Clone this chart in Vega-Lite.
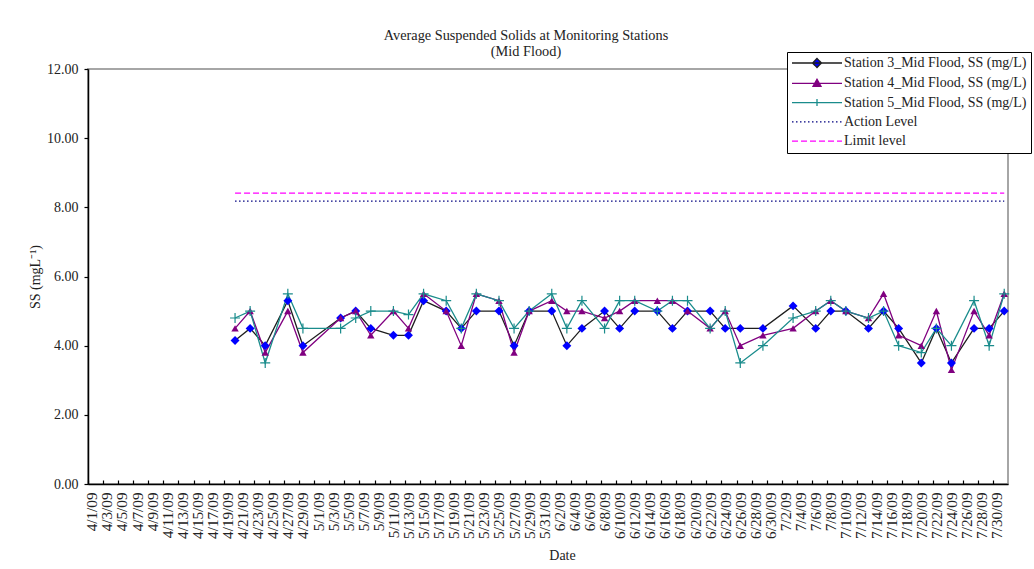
{
  "$schema": "https://vega.github.io/schema/vega-lite/v6.json",
  "width": 920,
  "height": 415,
  "autosize": "none",
  "padding": {"left": 88, "top": 69, "right": 26, "bottom": 85},
  "background": "white",
  "config": {
    "font": "Liberation Serif",
    "view": {"stroke": "#a6a6a6", "strokeWidth": 2},
    "axis": {"labelFont": "Liberation Serif", "titleFont": "Liberation Serif", "labelColor": "#222", "titleColor": "#222", "domainColor": "#000", "tickColor": "#000", "domainWidth": 1.5, "tickWidth": 1.2, "grid": false, "titleFontWeight": "normal"}
  },
  "title": {
    "text": ["Average Suspended Solids at Monitoring Stations", "(Mid Flood)"],
    "font": "Liberation Serif",
    "fontSize": 14.3,
    "fontWeight": "normal",
    "color": "#222",
    "anchor": "middle",
    "dx": -22,
    "offset": -8,
    "lineHeight": 16
  },
  "datasets": {
    "stations": [
      {"date": "2009-04-20", "series": "Station 3_Mid Flood, SS (mg/L)", "ss": 4.15},
      {"date": "2009-04-22", "series": "Station 3_Mid Flood, SS (mg/L)", "ss": 4.5},
      {"date": "2009-04-24", "series": "Station 3_Mid Flood, SS (mg/L)", "ss": 4.0},
      {"date": "2009-04-27", "series": "Station 3_Mid Flood, SS (mg/L)", "ss": 5.3},
      {"date": "2009-04-29", "series": "Station 3_Mid Flood, SS (mg/L)", "ss": 4.0},
      {"date": "2009-05-04", "series": "Station 3_Mid Flood, SS (mg/L)", "ss": 4.8},
      {"date": "2009-05-06", "series": "Station 3_Mid Flood, SS (mg/L)", "ss": 5.0},
      {"date": "2009-05-08", "series": "Station 3_Mid Flood, SS (mg/L)", "ss": 4.5},
      {"date": "2009-05-11", "series": "Station 3_Mid Flood, SS (mg/L)", "ss": 4.3},
      {"date": "2009-05-13", "series": "Station 3_Mid Flood, SS (mg/L)", "ss": 4.3},
      {"date": "2009-05-15", "series": "Station 3_Mid Flood, SS (mg/L)", "ss": 5.3},
      {"date": "2009-05-18", "series": "Station 3_Mid Flood, SS (mg/L)", "ss": 5.0},
      {"date": "2009-05-20", "series": "Station 3_Mid Flood, SS (mg/L)", "ss": 4.5},
      {"date": "2009-05-22", "series": "Station 3_Mid Flood, SS (mg/L)", "ss": 5.0},
      {"date": "2009-05-25", "series": "Station 3_Mid Flood, SS (mg/L)", "ss": 5.0},
      {"date": "2009-05-27", "series": "Station 3_Mid Flood, SS (mg/L)", "ss": 4.0},
      {"date": "2009-05-29", "series": "Station 3_Mid Flood, SS (mg/L)", "ss": 5.0},
      {"date": "2009-06-01", "series": "Station 3_Mid Flood, SS (mg/L)", "ss": 5.0},
      {"date": "2009-06-03", "series": "Station 3_Mid Flood, SS (mg/L)", "ss": 4.0},
      {"date": "2009-06-05", "series": "Station 3_Mid Flood, SS (mg/L)", "ss": 4.5},
      {"date": "2009-06-08", "series": "Station 3_Mid Flood, SS (mg/L)", "ss": 5.0},
      {"date": "2009-06-10", "series": "Station 3_Mid Flood, SS (mg/L)", "ss": 4.5},
      {"date": "2009-06-12", "series": "Station 3_Mid Flood, SS (mg/L)", "ss": 5.0},
      {"date": "2009-06-15", "series": "Station 3_Mid Flood, SS (mg/L)", "ss": 5.0},
      {"date": "2009-06-17", "series": "Station 3_Mid Flood, SS (mg/L)", "ss": 4.5},
      {"date": "2009-06-19", "series": "Station 3_Mid Flood, SS (mg/L)", "ss": 5.0},
      {"date": "2009-06-22", "series": "Station 3_Mid Flood, SS (mg/L)", "ss": 5.0},
      {"date": "2009-06-24", "series": "Station 3_Mid Flood, SS (mg/L)", "ss": 4.5},
      {"date": "2009-06-26", "series": "Station 3_Mid Flood, SS (mg/L)", "ss": 4.5},
      {"date": "2009-06-29", "series": "Station 3_Mid Flood, SS (mg/L)", "ss": 4.5},
      {"date": "2009-07-03", "series": "Station 3_Mid Flood, SS (mg/L)", "ss": 5.15},
      {"date": "2009-07-06", "series": "Station 3_Mid Flood, SS (mg/L)", "ss": 4.5},
      {"date": "2009-07-08", "series": "Station 3_Mid Flood, SS (mg/L)", "ss": 5.0},
      {"date": "2009-07-10", "series": "Station 3_Mid Flood, SS (mg/L)", "ss": 5.0},
      {"date": "2009-07-13", "series": "Station 3_Mid Flood, SS (mg/L)", "ss": 4.5},
      {"date": "2009-07-15", "series": "Station 3_Mid Flood, SS (mg/L)", "ss": 5.0},
      {"date": "2009-07-17", "series": "Station 3_Mid Flood, SS (mg/L)", "ss": 4.5},
      {"date": "2009-07-20", "series": "Station 3_Mid Flood, SS (mg/L)", "ss": 3.5},
      {"date": "2009-07-22", "series": "Station 3_Mid Flood, SS (mg/L)", "ss": 4.5},
      {"date": "2009-07-24", "series": "Station 3_Mid Flood, SS (mg/L)", "ss": 3.5},
      {"date": "2009-07-27", "series": "Station 3_Mid Flood, SS (mg/L)", "ss": 4.5},
      {"date": "2009-07-29", "series": "Station 3_Mid Flood, SS (mg/L)", "ss": 4.5},
      {"date": "2009-07-31", "series": "Station 3_Mid Flood, SS (mg/L)", "ss": 5.0},

      {"date": "2009-04-20", "series": "Station 4_Mid Flood, SS (mg/L)", "ss": 4.5},
      {"date": "2009-04-22", "series": "Station 4_Mid Flood, SS (mg/L)", "ss": 5.0},
      {"date": "2009-04-24", "series": "Station 4_Mid Flood, SS (mg/L)", "ss": 3.8},
      {"date": "2009-04-27", "series": "Station 4_Mid Flood, SS (mg/L)", "ss": 5.0},
      {"date": "2009-04-29", "series": "Station 4_Mid Flood, SS (mg/L)", "ss": 3.8},
      {"date": "2009-05-04", "series": "Station 4_Mid Flood, SS (mg/L)", "ss": 4.8},
      {"date": "2009-05-06", "series": "Station 4_Mid Flood, SS (mg/L)", "ss": 5.0},
      {"date": "2009-05-08", "series": "Station 4_Mid Flood, SS (mg/L)", "ss": 4.3},
      {"date": "2009-05-11", "series": "Station 4_Mid Flood, SS (mg/L)", "ss": 5.0},
      {"date": "2009-05-13", "series": "Station 4_Mid Flood, SS (mg/L)", "ss": 4.5},
      {"date": "2009-05-15", "series": "Station 4_Mid Flood, SS (mg/L)", "ss": 5.5},
      {"date": "2009-05-18", "series": "Station 4_Mid Flood, SS (mg/L)", "ss": 5.0},
      {"date": "2009-05-20", "series": "Station 4_Mid Flood, SS (mg/L)", "ss": 4.0},
      {"date": "2009-05-22", "series": "Station 4_Mid Flood, SS (mg/L)", "ss": 5.5},
      {"date": "2009-05-25", "series": "Station 4_Mid Flood, SS (mg/L)", "ss": 5.3},
      {"date": "2009-05-27", "series": "Station 4_Mid Flood, SS (mg/L)", "ss": 3.8},
      {"date": "2009-05-29", "series": "Station 4_Mid Flood, SS (mg/L)", "ss": 5.0},
      {"date": "2009-06-01", "series": "Station 4_Mid Flood, SS (mg/L)", "ss": 5.3},
      {"date": "2009-06-03", "series": "Station 4_Mid Flood, SS (mg/L)", "ss": 5.0},
      {"date": "2009-06-05", "series": "Station 4_Mid Flood, SS (mg/L)", "ss": 5.0},
      {"date": "2009-06-08", "series": "Station 4_Mid Flood, SS (mg/L)", "ss": 4.8},
      {"date": "2009-06-10", "series": "Station 4_Mid Flood, SS (mg/L)", "ss": 5.0},
      {"date": "2009-06-12", "series": "Station 4_Mid Flood, SS (mg/L)", "ss": 5.3},
      {"date": "2009-06-15", "series": "Station 4_Mid Flood, SS (mg/L)", "ss": 5.3},
      {"date": "2009-06-17", "series": "Station 4_Mid Flood, SS (mg/L)", "ss": 5.3},
      {"date": "2009-06-19", "series": "Station 4_Mid Flood, SS (mg/L)", "ss": 5.0},
      {"date": "2009-06-22", "series": "Station 4_Mid Flood, SS (mg/L)", "ss": 4.5},
      {"date": "2009-06-24", "series": "Station 4_Mid Flood, SS (mg/L)", "ss": 5.0},
      {"date": "2009-06-26", "series": "Station 4_Mid Flood, SS (mg/L)", "ss": 4.0},
      {"date": "2009-06-29", "series": "Station 4_Mid Flood, SS (mg/L)", "ss": 4.3},
      {"date": "2009-07-03", "series": "Station 4_Mid Flood, SS (mg/L)", "ss": 4.5},
      {"date": "2009-07-06", "series": "Station 4_Mid Flood, SS (mg/L)", "ss": 5.0},
      {"date": "2009-07-08", "series": "Station 4_Mid Flood, SS (mg/L)", "ss": 5.3},
      {"date": "2009-07-10", "series": "Station 4_Mid Flood, SS (mg/L)", "ss": 5.0},
      {"date": "2009-07-13", "series": "Station 4_Mid Flood, SS (mg/L)", "ss": 4.8},
      {"date": "2009-07-15", "series": "Station 4_Mid Flood, SS (mg/L)", "ss": 5.5},
      {"date": "2009-07-17", "series": "Station 4_Mid Flood, SS (mg/L)", "ss": 4.3},
      {"date": "2009-07-20", "series": "Station 4_Mid Flood, SS (mg/L)", "ss": 4.0},
      {"date": "2009-07-22", "series": "Station 4_Mid Flood, SS (mg/L)", "ss": 5.0},
      {"date": "2009-07-24", "series": "Station 4_Mid Flood, SS (mg/L)", "ss": 3.3},
      {"date": "2009-07-27", "series": "Station 4_Mid Flood, SS (mg/L)", "ss": 5.0},
      {"date": "2009-07-29", "series": "Station 4_Mid Flood, SS (mg/L)", "ss": 4.3},
      {"date": "2009-07-31", "series": "Station 4_Mid Flood, SS (mg/L)", "ss": 5.5},

      {"date": "2009-04-20", "series": "Station 5_Mid Flood, SS (mg/L)", "ss": 4.8},
      {"date": "2009-04-22", "series": "Station 5_Mid Flood, SS (mg/L)", "ss": 5.0},
      {"date": "2009-04-24", "series": "Station 5_Mid Flood, SS (mg/L)", "ss": 3.5},
      {"date": "2009-04-27", "series": "Station 5_Mid Flood, SS (mg/L)", "ss": 5.5},
      {"date": "2009-04-29", "series": "Station 5_Mid Flood, SS (mg/L)", "ss": 4.5},
      {"date": "2009-05-04", "series": "Station 5_Mid Flood, SS (mg/L)", "ss": 4.5},
      {"date": "2009-05-06", "series": "Station 5_Mid Flood, SS (mg/L)", "ss": 4.8},
      {"date": "2009-05-08", "series": "Station 5_Mid Flood, SS (mg/L)", "ss": 5.0},
      {"date": "2009-05-11", "series": "Station 5_Mid Flood, SS (mg/L)", "ss": 5.0},
      {"date": "2009-05-13", "series": "Station 5_Mid Flood, SS (mg/L)", "ss": 4.9},
      {"date": "2009-05-15", "series": "Station 5_Mid Flood, SS (mg/L)", "ss": 5.5},
      {"date": "2009-05-18", "series": "Station 5_Mid Flood, SS (mg/L)", "ss": 5.3},
      {"date": "2009-05-20", "series": "Station 5_Mid Flood, SS (mg/L)", "ss": 4.5},
      {"date": "2009-05-22", "series": "Station 5_Mid Flood, SS (mg/L)", "ss": 5.5},
      {"date": "2009-05-25", "series": "Station 5_Mid Flood, SS (mg/L)", "ss": 5.3},
      {"date": "2009-05-27", "series": "Station 5_Mid Flood, SS (mg/L)", "ss": 4.5},
      {"date": "2009-05-29", "series": "Station 5_Mid Flood, SS (mg/L)", "ss": 5.0},
      {"date": "2009-06-01", "series": "Station 5_Mid Flood, SS (mg/L)", "ss": 5.5},
      {"date": "2009-06-03", "series": "Station 5_Mid Flood, SS (mg/L)", "ss": 4.5},
      {"date": "2009-06-05", "series": "Station 5_Mid Flood, SS (mg/L)", "ss": 5.3},
      {"date": "2009-06-08", "series": "Station 5_Mid Flood, SS (mg/L)", "ss": 4.5},
      {"date": "2009-06-10", "series": "Station 5_Mid Flood, SS (mg/L)", "ss": 5.3},
      {"date": "2009-06-12", "series": "Station 5_Mid Flood, SS (mg/L)", "ss": 5.3},
      {"date": "2009-06-15", "series": "Station 5_Mid Flood, SS (mg/L)", "ss": 5.0},
      {"date": "2009-06-17", "series": "Station 5_Mid Flood, SS (mg/L)", "ss": 5.3},
      {"date": "2009-06-19", "series": "Station 5_Mid Flood, SS (mg/L)", "ss": 5.3},
      {"date": "2009-06-22", "series": "Station 5_Mid Flood, SS (mg/L)", "ss": 4.5},
      {"date": "2009-06-24", "series": "Station 5_Mid Flood, SS (mg/L)", "ss": 5.0},
      {"date": "2009-06-26", "series": "Station 5_Mid Flood, SS (mg/L)", "ss": 3.5},
      {"date": "2009-06-29", "series": "Station 5_Mid Flood, SS (mg/L)", "ss": 4.0},
      {"date": "2009-07-03", "series": "Station 5_Mid Flood, SS (mg/L)", "ss": 4.8},
      {"date": "2009-07-06", "series": "Station 5_Mid Flood, SS (mg/L)", "ss": 5.0},
      {"date": "2009-07-08", "series": "Station 5_Mid Flood, SS (mg/L)", "ss": 5.3},
      {"date": "2009-07-10", "series": "Station 5_Mid Flood, SS (mg/L)", "ss": 5.0},
      {"date": "2009-07-13", "series": "Station 5_Mid Flood, SS (mg/L)", "ss": 4.8},
      {"date": "2009-07-15", "series": "Station 5_Mid Flood, SS (mg/L)", "ss": 5.0},
      {"date": "2009-07-17", "series": "Station 5_Mid Flood, SS (mg/L)", "ss": 4.0},
      {"date": "2009-07-20", "series": "Station 5_Mid Flood, SS (mg/L)", "ss": 3.8},
      {"date": "2009-07-22", "series": "Station 5_Mid Flood, SS (mg/L)", "ss": 4.5},
      {"date": "2009-07-24", "series": "Station 5_Mid Flood, SS (mg/L)", "ss": 4.0},
      {"date": "2009-07-27", "series": "Station 5_Mid Flood, SS (mg/L)", "ss": 5.3},
      {"date": "2009-07-29", "series": "Station 5_Mid Flood, SS (mg/L)", "ss": 4.0},
      {"date": "2009-07-31", "series": "Station 5_Mid Flood, SS (mg/L)", "ss": 5.5}
    ],
    "levels": [
      {"date": "2009-04-20", "series": "Action Level", "ss": 8.18},
      {"date": "2009-07-31", "series": "Action Level", "ss": 8.18},
      {"date": "2009-04-20", "series": "Limit level", "ss": 8.41},
      {"date": "2009-07-31", "series": "Limit level", "ss": 8.41}
    ]
  },
  "encoding": {
    "x": {
      "field": "date",
      "type": "temporal",
      "scale": {
        "type": "utc",
        "domain": [
          {"year": 2009, "month": 3, "date": 31, "hours": 12, "utc": true},
          {"year": 2009, "month": 7, "date": 31, "hours": 12, "utc": true}
        ]
      },
      "axis": {
        "title": "Date",
        "titleFontSize": 14,
        "titlePadding": 10,
        "titleX": 474,
        "format": "%-m/%-d/%y",
        "labelAngle": -90,
        "labelFontSize": 15.2,
        "labelPadding": 12,
        "labelOverlap": false,
        "labelFlush": false,
        "tickSize": -4,
        "tickOffset": -3.77,
        "labelOffset": 3.77,
        "values": [
          {"year": 2009, "month": 4, "date": 1, "utc": true}, {"year": 2009, "month": 4, "date": 3, "utc": true},
          {"year": 2009, "month": 4, "date": 5, "utc": true}, {"year": 2009, "month": 4, "date": 7, "utc": true},
          {"year": 2009, "month": 4, "date": 9, "utc": true}, {"year": 2009, "month": 4, "date": 11, "utc": true},
          {"year": 2009, "month": 4, "date": 13, "utc": true}, {"year": 2009, "month": 4, "date": 15, "utc": true},
          {"year": 2009, "month": 4, "date": 17, "utc": true}, {"year": 2009, "month": 4, "date": 19, "utc": true},
          {"year": 2009, "month": 4, "date": 21, "utc": true}, {"year": 2009, "month": 4, "date": 23, "utc": true},
          {"year": 2009, "month": 4, "date": 25, "utc": true}, {"year": 2009, "month": 4, "date": 27, "utc": true},
          {"year": 2009, "month": 4, "date": 29, "utc": true}, {"year": 2009, "month": 5, "date": 1, "utc": true},
          {"year": 2009, "month": 5, "date": 3, "utc": true}, {"year": 2009, "month": 5, "date": 5, "utc": true},
          {"year": 2009, "month": 5, "date": 7, "utc": true}, {"year": 2009, "month": 5, "date": 9, "utc": true},
          {"year": 2009, "month": 5, "date": 11, "utc": true}, {"year": 2009, "month": 5, "date": 13, "utc": true},
          {"year": 2009, "month": 5, "date": 15, "utc": true}, {"year": 2009, "month": 5, "date": 17, "utc": true},
          {"year": 2009, "month": 5, "date": 19, "utc": true}, {"year": 2009, "month": 5, "date": 21, "utc": true},
          {"year": 2009, "month": 5, "date": 23, "utc": true}, {"year": 2009, "month": 5, "date": 25, "utc": true},
          {"year": 2009, "month": 5, "date": 27, "utc": true}, {"year": 2009, "month": 5, "date": 29, "utc": true},
          {"year": 2009, "month": 5, "date": 31, "utc": true}, {"year": 2009, "month": 6, "date": 2, "utc": true},
          {"year": 2009, "month": 6, "date": 4, "utc": true}, {"year": 2009, "month": 6, "date": 6, "utc": true},
          {"year": 2009, "month": 6, "date": 8, "utc": true}, {"year": 2009, "month": 6, "date": 10, "utc": true},
          {"year": 2009, "month": 6, "date": 12, "utc": true}, {"year": 2009, "month": 6, "date": 14, "utc": true},
          {"year": 2009, "month": 6, "date": 16, "utc": true}, {"year": 2009, "month": 6, "date": 18, "utc": true},
          {"year": 2009, "month": 6, "date": 20, "utc": true}, {"year": 2009, "month": 6, "date": 22, "utc": true},
          {"year": 2009, "month": 6, "date": 24, "utc": true}, {"year": 2009, "month": 6, "date": 26, "utc": true},
          {"year": 2009, "month": 6, "date": 28, "utc": true}, {"year": 2009, "month": 6, "date": 30, "utc": true},
          {"year": 2009, "month": 7, "date": 2, "utc": true}, {"year": 2009, "month": 7, "date": 4, "utc": true},
          {"year": 2009, "month": 7, "date": 6, "utc": true}, {"year": 2009, "month": 7, "date": 8, "utc": true},
          {"year": 2009, "month": 7, "date": 10, "utc": true}, {"year": 2009, "month": 7, "date": 12, "utc": true},
          {"year": 2009, "month": 7, "date": 14, "utc": true}, {"year": 2009, "month": 7, "date": 16, "utc": true},
          {"year": 2009, "month": 7, "date": 18, "utc": true}, {"year": 2009, "month": 7, "date": 20, "utc": true},
          {"year": 2009, "month": 7, "date": 22, "utc": true}, {"year": 2009, "month": 7, "date": 24, "utc": true},
          {"year": 2009, "month": 7, "date": 26, "utc": true}, {"year": 2009, "month": 7, "date": 28, "utc": true},
          {"year": 2009, "month": 7, "date": 30, "utc": true}
        ]
      }
    },
    "y": {
      "field": "ss",
      "type": "quantitative",
      "scale": {"domain": [0, 12], "nice": false, "zero": true},
      "axis": {
        "title": "SS (mgL⁻¹)",
        "titleFontSize": 14,
        "titlePadding": 4,
        "values": [0, 2, 4, 6, 8, 10, 12],
        "format": ".2f",
        "labelFontSize": 14,
        "labelPadding": 6,
        "tickSize": 4
      }
    }
  },
  "layer": [
    {
      "data": {"name": "levels"},
      "transform": [{"filter": "datum.series == 'Limit level'"}],
      "mark": {"type": "line", "color": "#ff00ff", "strokeWidth": 1.2, "strokeDash": [6, 3]}
    },
    {
      "data": {"name": "levels"},
      "transform": [{"filter": "datum.series == 'Action Level'"}],
      "mark": {"type": "line", "color": "#000080", "strokeWidth": 1.3, "strokeDash": [1.5, 2.5]}
    },
    {
      "data": {"name": "stations"},
      "mark": {"type": "line", "strokeWidth": 1.3},
      "encoding": {
        "color": {
          "field": "series",
          "type": "nominal",
          "scale": {
            "domain": ["Station 3_Mid Flood, SS (mg/L)", "Station 4_Mid Flood, SS (mg/L)", "Station 5_Mid Flood, SS (mg/L)", "Action Level", "Limit level"],
            "range": ["#1e1e1e", "#800080", "#1a8c8c", "#000080", "#ff00ff"]
          },
          "legend": {
            "title": null,
            "orient": "none",
            "legendX": 699,
            "legendY": -17,
            "direction": "vertical",
            "labelFont": "Liberation Serif",
            "labelFontSize": 14,
            "labelColor": "#222",
            "labelLimit": 400,
            "symbolSize": 100,
            "symbolOffset": 19,
            "labelOffset": 20,
            "rowPadding": 5.3,
            "padding": 4,
            "strokeColor": "#000",
            "fillColor": "white",
            "encode": {
              "symbols": {
                "update": {
                  "shape": {"signal": "datum.value == 'Station 3_Mid Flood, SS (mg/L)' ? 'M-5,0H5M0,-0.9L0.9,0L0,0.9L-0.9,0Z' : datum.value == 'Station 4_Mid Flood, SS (mg/L)' ? 'M-5,0H5M0,-0.8L0.8,0.6L-0.8,0.6Z' : datum.value == 'Station 5_Mid Flood, SS (mg/L)' ? 'M-5,0H5M0,-0.7V0.7' : 'M-5,0H5'"},
                  "fill": {"signal": "datum.value == 'Station 3_Mid Flood, SS (mg/L)' ? '#0000ff' : datum.value == 'Station 4_Mid Flood, SS (mg/L)' ? '#800080' : 'transparent'"},
                  "strokeDash": {"signal": "datum.value == 'Action Level' ? [1.5, 2.5] : datum.value == 'Limit level' ? [6, 3] : [1, 0]"},
                  "strokeWidth": {"value": 1.3},
                  "opacity": {"value": 1}
                }
              }
            }
          }
        }
      }
    },
    {
      "data": {"name": "stations"},
      "transform": [{"filter": "datum.series == 'Station 3_Mid Flood, SS (mg/L)'"}],
      "mark": {"type": "point", "shape": "diamond", "size": 80, "filled": true, "color": "#0000ff", "opacity": 1}
    },
    {
      "data": {"name": "stations"},
      "transform": [{"filter": "datum.series == 'Station 4_Mid Flood, SS (mg/L)'"}],
      "mark": {"type": "point", "shape": "triangle-up", "size": 55, "filled": true, "color": "#800080", "opacity": 1}
    },
    {
      "data": {"name": "stations"},
      "transform": [{"filter": "datum.series == 'Station 5_Mid Flood, SS (mg/L)'"}],
      "mark": {"type": "point", "shape": "M-1,0H1M0,-1V1", "size": 100, "filled": false, "color": "#1a8c8c", "strokeWidth": 1.2, "opacity": 1}
    }
  ]
}
